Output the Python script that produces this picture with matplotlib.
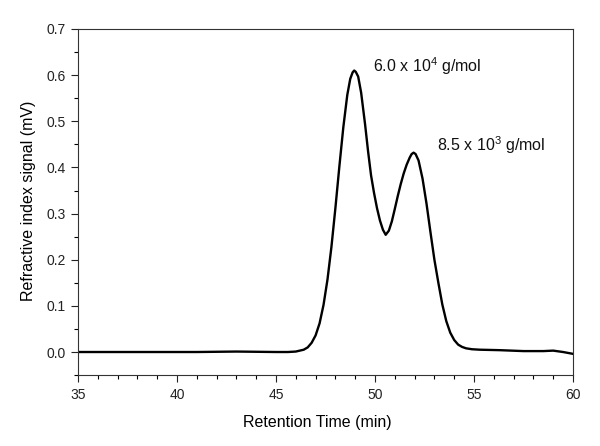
import matplotlib
matplotlib.use("Agg")
import matplotlib.pyplot as plt
from matplotlib.ticker import MultipleLocator

plt.rcParams['font.family'] = ['Liberation Sans', 'DejaVu Sans']
plt.rcParams['mathtext.fontset'] = 'custom'
plt.rcParams['mathtext.rm'] = 'Liberation Sans'

# Retention time (min) and RI signal (mV)
time = [35.0, 38.0, 41.0, 43.0, 45.0, 45.6, 46.0, 46.2, 46.4, 46.6, 46.8,
        47.0, 47.2, 47.4, 47.6, 47.8, 48.0, 48.2, 48.4, 48.6, 48.75, 48.87,
        48.95, 49.03, 49.15, 49.3, 49.5, 49.65, 49.8, 49.95, 50.1, 50.25,
        50.4, 50.54, 50.7, 50.85, 51.0, 51.15, 51.3, 51.45, 51.6, 51.75,
        51.85, 51.95, 52.05, 52.2, 52.4, 52.6, 52.8, 53.0, 53.2, 53.4, 53.6,
        53.8, 54.0, 54.2, 54.4, 54.6, 54.9, 55.3, 56.3, 57.5, 58.5, 59.0,
        59.5, 60.0]
signal = [0.000, 0.000, 0.000, 0.001, 0.000, 0.000, 0.001, 0.003, 0.005, 0.010,
          0.020, 0.036, 0.062, 0.102, 0.157, 0.228, 0.312, 0.402, 0.487, 0.557,
          0.592, 0.606, 0.610, 0.607, 0.597, 0.562, 0.493, 0.435, 0.383, 0.345,
          0.312, 0.285, 0.265, 0.254, 0.263, 0.283, 0.310, 0.338, 0.364, 0.387,
          0.406, 0.421, 0.429, 0.432, 0.429, 0.415, 0.376, 0.322, 0.260, 0.200,
          0.150, 0.103, 0.067, 0.042, 0.026, 0.016, 0.011, 0.008, 0.006, 0.005,
          0.004, 0.002, 0.002, 0.003, 0.000, -0.004]

labels = [r'6.0 x 10$^{\mathregular{4}}$ g/mol', r'8.5 x 10$^{\mathregular{3}}$ g/mol']
label_x = [49.9, 53.13]
label_y = [0.607, 0.436]

fig = plt.figure(figsize=(6.0, 4.46), dpi=100)
ax = fig.add_axes([0.13, 0.159, 0.825, 0.776])
ax.plot(time, signal, color='black', lw=1.7, solid_joinstyle='round')

for t, x, y in zip(labels, label_x, label_y):
    ax.text(x, y, t, fontsize=11.5, ha='left', va='baseline', color='#111111')

ax.set_xlim(35, 60)
ax.set_ylim(-0.05, 0.7)
ax.xaxis.set_major_locator(MultipleLocator(5))
ax.xaxis.set_minor_locator(MultipleLocator(1))
ax.yaxis.set_major_locator(MultipleLocator(0.1))
ax.yaxis.set_minor_locator(MultipleLocator(0.05))
ax.yaxis.set_major_formatter(plt.FuncFormatter(lambda v, p: f'{v:.1f}'))
ax.tick_params(which='major', direction='out', length=5, width=0.8, labelsize=10,
               colors='#222222', pad=4)
ax.tick_params(which='minor', direction='out', length=3, width=0.8)
for s in ax.spines.values():
    s.set_linewidth(0.8)
    s.set_color('#333333')
ax.tick_params(top=False, right=False)

ax.set_xlabel('Retention Time (min)', fontsize=11.5)
ax.set_ylabel('Refractive index signal (mV)', fontsize=11.5)
ax.xaxis.set_label_coords(0.483, -0.115)
ax.yaxis.set_label_coords(-0.085, 0.504)

fig.savefig('out.png', dpi=100)
